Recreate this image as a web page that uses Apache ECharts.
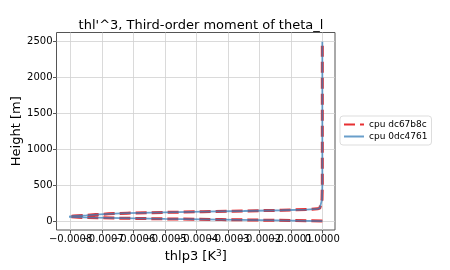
<!DOCTYPE html>
<html><head><meta charset="utf-8">
<script src="https://cdn.jsdelivr.net/npm/echarts@6/dist/echarts.min.js"></script>
<style>html,body{margin:0;padding:0;background:#fff}#c{width:450px;height:270px}</style>
</head><body><div id="c"></div>
<script>
var heights = [0,10,20,30,40,50,60,70,80,90,100,110,120,130,140,150,160,170,180,200,300,500,750,1000,1250,1500,1750,2000,2250,2500];
var thlp3_dc67b8c = [0,-0.00014,-0.00032,-0.0005,-0.00064,-0.00076,-0.000805,-0.00079,-0.00075,-0.00072,-0.00068,-0.00062,-0.0005,-0.00038,-0.00025,-0.00013,-0.00005,-0.000015,-0.000008,-0.000003,-0.000001,0,0,0,0,0,0,0,0,0];
var thlp3_0dc4761 = [0,-0.00014,-0.00032,-0.0005,-0.00064,-0.00076,-0.000805,-0.00079,-0.00075,-0.00072,-0.00068,-0.00062,-0.0005,-0.00038,-0.00025,-0.00013,-0.00005,-0.000015,-0.000008,-0.000003,-0.000001,0,0,0,0,0,0,0,0,0];
var xTicks = [-0.0008,-0.0007,-0.0006,-0.0005,-0.0004,-0.0003,-0.0002,-0.0001,0];
var yTicks = [0,500,1000,1500,2000,2500];
var seriesNames = ['cpu dc67b8c','cpu 0dc4761'];

function pairs(xs, ys){ return xs.map(function(v,i){ return [v, ys[i]]; }); }
var xTicksEven = xTicks.filter(function(v,i){ return i % 2 === 0; });
var xTicksOdd = xTicks.filter(function(v,i){ return i % 2 === 1; });
var FONT = 'DejaVu Sans';
var XMIN = -0.000845, XMAX = 0.0000403;
function fmtX(v){ return Number(v).toFixed(4).replace('-', '\u2212'); }
var labelBase = {margin:4, fontFamily:FONT, fontSize:10, color:'#000', hideOverlap:false, showMinLabel:true, showMaxLabel:true, formatter:fmtX};
var chart = echarts.init(document.getElementById('c'), null, {renderer:'canvas'});
chart.setOption({
  animation:false,
  backgroundColor:'#fff',
  title:{text:"thl'^3, Third-order moment of theta_l", left:196, top:14, textAlign:'center',
    textStyle:{fontFamily:FONT, fontSize:13, fontWeight:'normal', color:'#000'}},
  grid:{left:56.5, right:115, top:32.5, bottom:40, show:true, borderColor:'#555', borderWidth:1, backgroundColor:'transparent',
    containLabel:false, outerBoundsMode:'none'},
  legend:{orient:'vertical', left:340, top:116, padding:[4,4,4,3], itemGap:3, itemWidth:20, itemHeight:3,
    borderColor:'#ddd', borderWidth:1, borderRadius:3,
    textStyle:{fontFamily:FONT, fontSize:9, color:'#000'},
    data:seriesNames.map(function(n){ return {name:n, itemStyle:{opacity:0}}; })},
  xAxis:[{type:'value', min:XMIN, max:XMAX,
    name:'{a|thlp3 [K}{s|3}{a|]}', nameLocation:'middle', nameGap:19, nameMoveOverlap:false,
    nameTextStyle:{rich:{a:{fontFamily:FONT, fontSize:13, color:'#000'}, s:{fontFamily:FONT, fontSize:9, color:'#000', verticalAlign:'top', padding:[0,0,6,0]}}},
    axisLine:{show:false, onZero:false},
    axisTick:{show:true, inside:false, length:3.5, lineStyle:{color:'#555'}, customValues:xTicks},
    axisLabel:Object.assign({customValues:xTicksEven}, labelBase),
    splitLine:{show:true, lineStyle:{color:'#d0d0d0', width:0.8}}},
   {type:'value', min:XMIN, max:XMAX, position:'bottom', offset:0,
    axisLine:{show:false, onZero:false}, axisTick:{show:false}, splitLine:{show:false},
    axisLabel:Object.assign({customValues:xTicksOdd}, labelBase)}],
  yAxis:{type:'value', min:-125, max:2628,
    name:'Height [m]', nameLocation:'middle', nameGap:33, nameMoveOverlap:false,
    nameTextStyle:{fontFamily:FONT, fontSize:13, color:'#000'},
    axisLine:{show:false, onZero:false},
    axisTick:{show:true, inside:false, length:3.5, lineStyle:{color:'#555'}, customValues:yTicks},
    axisLabel:{customValues:yTicks, margin:4, fontFamily:FONT, fontSize:10, color:'#000', hideOverlap:false, showMinLabel:true, showMaxLabel:true,
      formatter:function(v){ return String(Math.round(v)); }},
    splitLine:{show:true, lineStyle:{color:'#d0d0d0', width:0.8}}},
  series:[
    {name:seriesNames[0], type:'line', symbol:'none', xAxisIndex:0, data:pairs(thlp3_dc67b8c, heights),
     lineStyle:{color:'#e41a1c', width:3, type:[11,5], opacity:0.9}, itemStyle:{color:'#e41a1c'}, z:2},
    {name:seriesNames[1], type:'line', symbol:'none', xAxisIndex:0, data:pairs(thlp3_0dc4761, heights),
     lineStyle:{color:'#377eb8', width:1.8, opacity:0.75}, itemStyle:{color:'#377eb8'}, z:3}
  ]
});
</script></body></html>
